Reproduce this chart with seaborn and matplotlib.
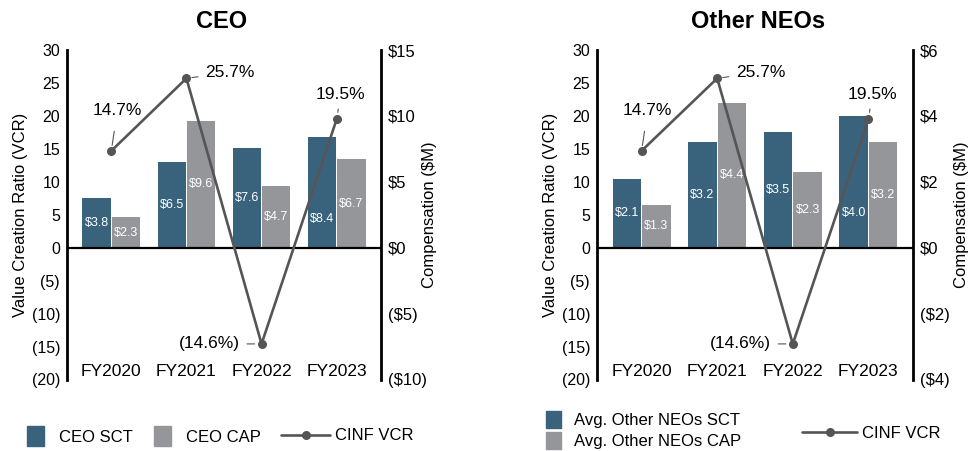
import numpy as np
import pandas as pd
import matplotlib
matplotlib.use("Agg")
import matplotlib.pyplot as plt
import seaborn as sns
from matplotlib.patches import Patch
from matplotlib.lines import Line2D

# ---- data ----
years = ["FY2020", "FY2021", "FY2022", "FY2023"]
vcr = [14.7, 25.7, -14.6, 19.5]          # CINF value creation ratio (%)
ceo_sct = [3.8, 6.5, 7.6, 8.4]           # $M
ceo_cap = [2.3, 9.6, 4.7, 6.7]
neo_sct = [2.1, 3.2, 3.5, 4.0]
neo_cap = [1.3, 4.4, 2.3, 3.2]

vcr_ticks = [30, 25, 20, 15, 10, 5, 0, -5, -10, -15, -20]
ceo_comp_ticks = [15, 10, 5, 0, -5, -10]
neo_comp_ticks = [6, 4, 2, 0, -2, -4]

BLUE = "#39637d"
GRAY = "#95969a"
LINE = "#555555"

W, H = 972, 451

sns.set_theme(style="white")
plt.rcParams["font.family"] = ["Liberation Sans", "DejaVu Sans"]
plt.rcParams["text.color"] = "black"
plt.rcParams["axes.labelcolor"] = "black"
plt.rcParams["xtick.color"] = "black"
plt.rcParams["ytick.color"] = "black"

fig = plt.figure(figsize=(W / 100, H / 100), dpi=100)


def rect(left, right, top, bottom):
    return [left / W, 1 - bottom / H, (right - left) / W, (bottom - top) / H]


def fmt_num(v):
    return f"({abs(v)})" if v < 0 else f"{v}"


def fmt_money(v):
    return f"(${abs(v)})" if v < 0 else f"${v}"


# offsets (pixels) and leader shrink for the VCR labels, one per year
ann_layout = [
    dict(off=(6, 40), ha="center", sa=7, sb=4),    # FY2020
    dict(off=(19, 6), ha="left", sa=3, sb=4),      # FY2021
    dict(off=(-22, 0), ha="right", sa=3, sb=5),    # FY2022
    dict(off=(4, 25), ha="center", sa=3, sb=5),    # FY2023
]


def panel(r, title, title_x, sct, cap, names, comp_ticks):
    ax = fig.add_axes(r)
    ax2 = ax.twinx()

    df = pd.DataFrame({
        "Year": years * 2,
        "Comp": sct + cap,
        "Type": [names[0]] * 4 + [names[1]] * 4,
    })
    sns.barplot(data=df, x="Year", y="Comp", hue="Type", palette=[BLUE, GRAY],
                width=0.78, gap=0.03, ax=ax2, legend=False, linewidth=0,
                saturation=1)

    sns.lineplot(x=np.arange(4), y=vcr, ax=ax, color=LINE, lw=1.9,
                 marker="o", markersize=6.5, markeredgewidth=0)
    ax.axhline(0, color="black", lw=1.6, zorder=1)

    ax.set_ylim(-20, 30)
    ax2.set_ylim(comp_ticks[-1], comp_ticks[0])
    ax.set_xlim(-0.59, 3.59)

    ax.set_yticks(vcr_ticks, [fmt_num(v) for v in vcr_ticks], fontsize=11.5)
    ax2.set_yticks(comp_ticks, [fmt_money(v) for v in comp_ticks], fontsize=12)
    ax.set_xticks(range(4), years, fontsize=12.5)
    ax.tick_params(axis="x", length=0, pad=-11, colors="black")
    ax.tick_params(axis="y", length=0, pad=5, colors="black")
    ax2.tick_params(axis="y", length=0, pad=5, colors="black")
    ax.set_xlabel("")
    ax2.set_xlabel("")

    ax.set_ylabel("Value Creation Ratio (VCR)", fontsize=12, color="black")
    ax2.set_ylabel("Compensation ($M)", fontsize=12, color="black")
    ax.yaxis.set_label_coords(-0.124, 0.5)
    ax2.yaxis.set_label_coords(1.13, 0.5)

    for a in (ax, ax2):
        for s in a.spines.values():
            s.set_visible(False)
    ax.spines["left"].set_visible(True)
    ax.spines["left"].set_color("black")
    ax.spines["left"].set_linewidth(2)
    ax2.spines["right"].set_visible(True)
    ax2.spines["right"].set_color("black")
    ax2.spines["right"].set_linewidth(2)

    ax.set_zorder(ax2.get_zorder() + 1)
    ax.patch.set_visible(False)

    # value labels inside the bars
    for cont, vals in zip(ax2.containers, (sct, cap)):
        for i, (p, v) in enumerate(zip(cont.patches, vals)):
            frac = 0.26 if (cont is ax2.containers[0] and i == 3) else 0.5
            ax2.text(p.get_x() + p.get_width() / 2, p.get_height() * frac,
                     f"${v:.1f}", ha="center", va="center", color="white",
                     fontsize=9)

    # VCR labels with short leader lines
    for i, (v, lay) in enumerate(zip(vcr, ann_layout)):
        txt = f"({abs(v)}%)" if v < 0 else f"{v}%"
        ax.annotate(txt, xy=(i, v), xytext=lay["off"], textcoords="offset pixels",
                    ha=lay["ha"], va="center", fontsize=12.5, color="black",
                    arrowprops=dict(arrowstyle="-", color=LINE, lw=0.8,
                                    shrinkA=lay["sa"], shrinkB=lay["sb"]))

    fig.text(title_x / W, 1 - 21 / H, title, ha="center", va="center",
             fontsize=17, fontweight="bold", color="black")
    return ax, ax2


panel(rect(67, 381, 50, 379.5), "CEO", 222, ceo_sct, ceo_cap,
      ("CEO SCT", "CEO CAP"), ceo_comp_ticks)
panel(rect(597, 913, 50, 379.5), "Other NEOs", 758, neo_sct, neo_cap,
      ("Avg. Other NEOs SCT", "Avg. Other NEOs CAP"), neo_comp_ticks)

line_handle = Line2D([], [], color=LINE, lw=1.9, marker="o", markersize=6.5,
                     markeredgewidth=0)

common = dict(frameon=False, borderpad=0, borderaxespad=0, fontsize=12,
              loc="center left", bbox_transform=fig.transFigure,
              labelcolor="black")

# CEO legend
fig.legend(handles=[Patch(color=BLUE), Patch(color=GRAY)],
           labels=["CEO SCT", "CEO CAP"], ncol=2,
           bbox_to_anchor=(27 / W, 1 - 436 / H),
           handlelength=1.02, handleheight=1.45, handletextpad=0.9,
           columnspacing=1.3, **common)
fig.legend(handles=[line_handle], labels=["CINF VCR"],
           bbox_to_anchor=(281 / W, 1 - 436 / H),
           handlelength=2.95, handletextpad=0.3, **common)

# Other NEOs legend
fig.legend(handles=[Patch(color=BLUE), Patch(color=GRAY)],
           labels=["Avg. Other NEOs SCT", "Avg. Other NEOs CAP"], ncol=1,
           bbox_to_anchor=(546 / W, 1 - 430 / H),
           handlelength=0.87, handleheight=1.25, handletextpad=0.8,
           labelspacing=0.2, **common)
fig.legend(handles=[line_handle], labels=["CINF VCR"],
           bbox_to_anchor=(802 / W, 1 - 433 / H),
           handlelength=3.3, handletextpad=0.3, **common)

fig.savefig("out.png", dpi=100)
